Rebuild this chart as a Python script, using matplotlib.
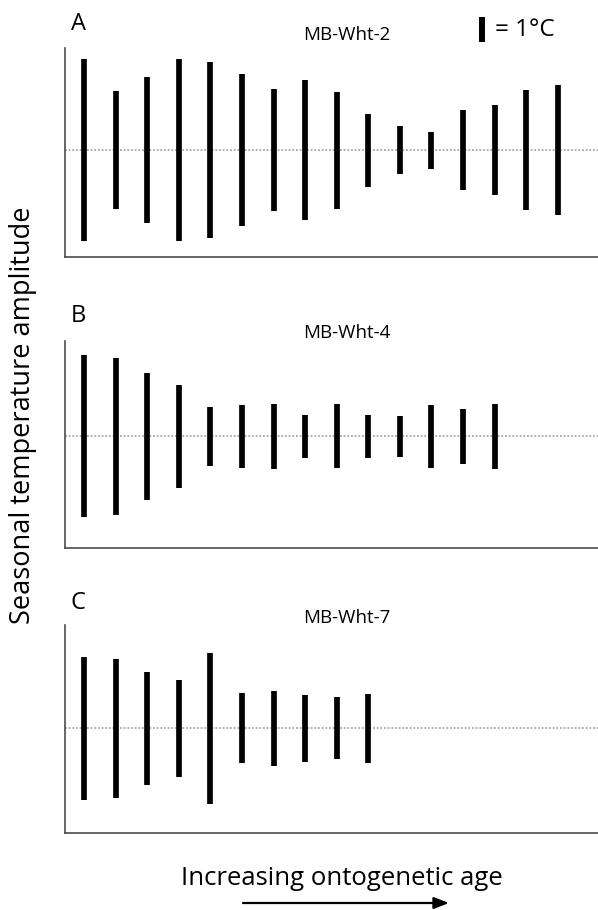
import matplotlib
matplotlib.use('Agg')
import matplotlib.pyplot as plt
import numpy as np

plt.rcParams['font.family'] = ['Open Sans', 'DejaVu Sans']

# Saisonale Amplituden (in °C)
amp_wht2 = [7.24, 4.72, 5.8, 7.24, 7.04, 6.04, 4.88, 5.6, 4.68, 2.92, 1.92, 1.48, 3.2, 3.6, 4.8, 5.2]
amp_wht4 = [6.48, 6.28, 5.08, 4.12, 2.36, 2.52, 2.6, 1.72, 2.56, 1.72, 1.64, 2.52, 2.2, 2.6]
amp_wht7 = [5.72, 5.56, 4.52, 3.88, 6.04, 2.8, 3.0, 2.68, 2.48, 2.76]

panel_letters = ['A', 'B', 'C']
sample_names = ['MB-Wht-2', 'MB-Wht-4', 'MB-Wht-7']

W, H = 598, 910

def fx(px):
    return px / W

def fy(py):
    return 1 - py / H

fig = plt.figure(figsize=(W / 100, H / 100), dpi=100)

# Achsen in Pixeln: (oben, unten, Platz ueber / unter der Mittellinie in °C)
boxes = [(48, 257, 4.08, 4.28), (341, 548, 3.8, 4.48), (625, 833, 4.12, 4.2)]
letter_y = [30, 322, 609]
title_y = [40, 338, 623]

for i, amps in enumerate([amp_wht2, amp_wht4, amp_wht7]):
    top, bot, up, down = boxes[i]
    ax = fig.add_axes([fx(65), fy(bot), 1 - fx(65), (bot - top) / H])
    x = np.arange(len(amps))
    a = np.array(amps)
    ax.axhline(0, color='#999999', lw=1.1, ls=(0, (1.2, 1.2)), zorder=1)
    ax.vlines(x, -a / 2, a / 2, color='black', lw=4.1, capstyle='butt', zorder=2)
    ax.set_xlim(-0.6, 16.27)
    ax.set_ylim(-down, up)
    for s in ['top', 'right']:
        ax.spines[s].set_visible(False)
    for s in ['left', 'bottom']:
        ax.spines[s].set_color('#4d4d4d')
        ax.spines[s].set_linewidth(1.2)
    ax.set_xticks([])
    ax.set_yticks([])

    fig.text(fx(71), fy(letter_y[i]), panel_letters[i], fontsize=17, va='baseline', ha='left')
    fig.text(fx(303), fy(title_y[i]), sample_names[i], fontsize=13.5, va='baseline', ha='left')

    if i == 0:
        # Massstab: Balken = 1°C
        ax.vlines([12.6], [4.3], [5.3], color='black', lw=4.3, capstyle='butt', clip_on=False)
        ax.text(13.0, 4.8, '= 1°C', fontsize=17.5, va='center', ha='left')

fig.text(fx(23), fy(415), 'Seasonal temperature amplitude', rotation=90,
         fontsize=19.5, ha='center', va='center')
fig.text(fx(342), fy(885), 'Increasing ontogenetic age', fontsize=18.5,
         ha='center', va='baseline')
fig.add_artist(matplotlib.patches.FancyArrowPatch(
    (fx(243), fy(903)), (fx(449), fy(903)), transform=fig.transFigure,
    arrowstyle='-|>,head_length=9,head_width=3.5', color='black', lw=1.6,
    mutation_scale=1, shrinkA=0, shrinkB=0))

fig.savefig('out.png', dpi=100)
